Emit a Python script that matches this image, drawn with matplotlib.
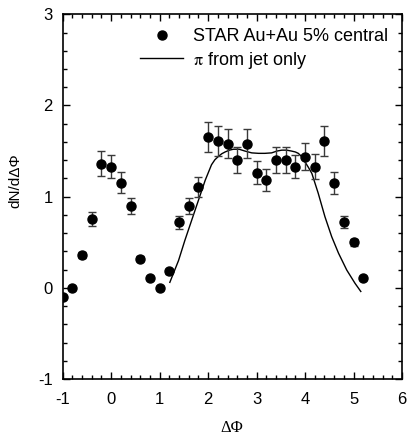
import matplotlib
matplotlib.use("Agg")
import matplotlib.pyplot as plt
from matplotlib.lines import Line2D
from matplotlib.ticker import MultipleLocator

plt.rcParams['font.family'] = ['Liberation Sans', 'DejaVu Sans']
plt.rcParams['axes.unicode_minus'] = False
plt.rcParams['mathtext.fontset'] = 'stix'

# STAR Au+Au 5% central
dphi = [-1.0, -0.8, -0.6, -0.4, -0.2, 0.0, 0.2, 0.4, 0.6, 0.8, 1.0, 1.2, 1.4, 1.6,
        1.8, 2.0, 2.2, 2.4, 2.6, 2.8, 3.0, 3.2, 3.4, 3.6, 3.8, 4.0, 4.2, 4.4, 4.6,
        4.8, 5.0, 5.2]
dndphi = [-0.10, 0.00, 0.36, 0.75, 1.36, 1.33, 1.15, 0.90, 0.32, 0.11, 0.00, 0.18,
          0.72, 0.90, 1.11, 1.65, 1.61, 1.58, 1.40, 1.58, 1.26, 1.18, 1.40, 1.40,
          1.33, 1.44, 1.33, 1.61, 1.15, 0.72, 0.50, 0.11]
dndphi_err = [0.02, 0.02, 0.03, 0.077, 0.137, 0.13, 0.115, 0.09, 0.03, 0.02, 0.02,
              0.03, 0.07, 0.086, 0.11, 0.165, 0.165, 0.16, 0.14, 0.16, 0.126, 0.12,
              0.14, 0.14, 0.13, 0.145, 0.137, 0.16, 0.12, 0.068, 0.04, 0.02]

# pi from jet only
jet_x = [1.21, 1.30, 1.39, 1.52, 1.66, 1.80, 1.94, 2.07, 2.14, 2.21, 2.28, 2.35,
         2.44, 2.52, 2.64, 2.76, 2.90, 3.04, 3.17, 3.31, 3.42, 3.52, 3.62, 3.72,
         3.80, 3.86, 3.93, 4.00, 4.07, 4.14, 4.27, 4.41, 4.55, 4.69, 4.86, 5.03,
         5.15]
jet_y = [0.06, 0.18, 0.30, 0.52, 0.74, 0.96, 1.18, 1.35, 1.405, 1.44, 1.47, 1.49,
         1.51, 1.52, 1.52, 1.50, 1.48, 1.475, 1.475, 1.48, 1.50, 1.51, 1.51, 1.50,
         1.49, 1.475, 1.44, 1.38, 1.32, 1.255, 1.04, 0.78, 0.56, 0.38, 0.195, 0.05,
         -0.04]

fig = plt.figure(figsize=(4.08, 4.37), dpi=100)
ax = fig.add_axes([0.1537, 0.1327, 0.8316, 0.8346])

ax.errorbar(dphi, dndphi, yerr=dndphi_err, fmt='o', color='black', ms=6.5,
            ecolor='#3a3a3a', elinewidth=1, capsize=3, capthick=1, zorder=3)
ax.plot(jet_x, jet_y, color='black', lw=1)

ax.set_xlim(-1, 6)
ax.set_ylim(-1, 3)
ax.xaxis.set_major_locator(MultipleLocator(1))
ax.xaxis.set_minor_locator(MultipleLocator(0.2))
ax.yaxis.set_major_locator(MultipleLocator(1))
ax.yaxis.set_minor_locator(MultipleLocator(0.2))
ax.tick_params(which='both', direction='in', top=True, right=True,
               labeltop=False, labelright=False, width=1)
ax.tick_params(which='major', length=5, labelsize=12)
ax.tick_params(axis='x', which='major', pad=9)
ax.tick_params(axis='y', which='major', pad=7)
ax.tick_params(which='minor', length=3)
for s in ax.spines.values():
    s.set_linewidth(1.2)

fig.text(232 / 408, 1 - 428 / 437, 'ΔΦ', family=['Liberation Serif', 'DejaVu Serif'],
         fontsize=12, ha='center', va='center')
fig.text(15 / 408, 1 - 181 / 437, 'dN/dΔΦ', fontsize=11, rotation=90,
         ha='center', va='center')

handles = [Line2D([], [], ls='none', marker='o', color='black', ms=6.5),
           Line2D([], [], color='black', lw=1)]
labels = ['STAR Au+Au 5% central', r'$\mathrm{\pi}$ from jet only']
ax.legend(handles, labels, loc='upper left', bbox_to_anchor=(0.228, 0.962),
          frameon=False, fontsize=13, handlelength=2.4, handletextpad=0.55,
          borderpad=0, borderaxespad=0, labelspacing=0.25)

fig.savefig('out.png', dpi=100)
